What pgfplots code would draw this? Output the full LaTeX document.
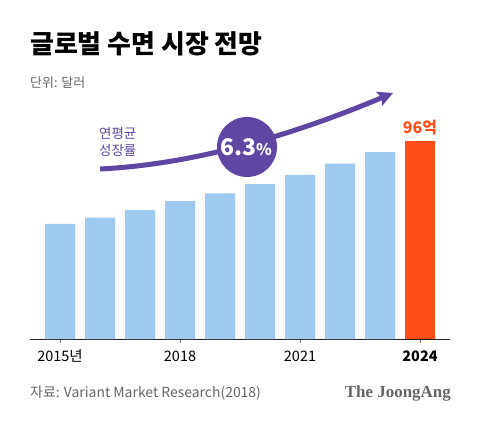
\documentclass[border=0pt]{standalone}
\usepackage{pgfplots}
\pgfplotsset{compat=1.18}
\usepackage{fontspec}
\setmainfont{Noto Sans CJK KR}
\newfontfamily\jaserif{Liberation Serif}
\usetikzlibrary{arrows.meta}
\definecolor{barblue}{HTML}{9DCAEE}
\definecolor{barred}{HTML}{FF4D17}
\definecolor{arrowpurple}{HTML}{5F46A3}
\definecolor{txtgray}{HTML}{666666}
\begin{document}
\begin{tikzpicture}[x=1bp,y=1bp]
\fill[white] (0,0) rectangle (480,422);
\path[use as bounding box] (0,0) rectangle (480,422);
% titles
\node[anchor=west, inner sep=0] at (30,378.5) {\fontsize{26}{26}\selectfont\bfseries 글로벌 수면 시장 전망};
\node[anchor=west, inner sep=0, text=txtgray] at (30,339.5) {\fontsize{13}{13}\selectfont 단위: 달러};
\begin{axis}[
  at={(30bp,83bp)}, anchor=south west,
  scale only axis, width=420bp, height=220bp,
  xmin=2014.25, xmax=2024.75, ymin=0, ymax=106.5,
  axis y line=none, axis x line=bottom,
  x axis line style={-, black!85, line width=0.9bp},
  xtick={2015,2018,2021,2024},
  xticklabels={2015년,2018,2021,\textbf{2024}},
  tick style={black!55, line width=0.7bp},
  major tick length=4bp, tick align=outside,
  xticklabel style={font=\fontsize{14.5}{14.5}\selectfont, text=black, inner sep=0pt, anchor=center, yshift=-13bp},
  clip=false,
]
\addplot[ybar, bar width=30bp, bar shift=0pt, fill=barblue, draw=none] coordinates {
 (2015,55.7) (2016,58.7) (2017,62.4) (2018,66.8) (2019,70.5)
 (2020,75.0) (2021,79.5) (2022,84.9) (2023,90.5)};
\addplot[ybar, bar width=30bp, bar shift=0pt, fill=barred, draw=none] coordinates {(2024,96)};
\node[anchor=south, inner sep=0, text=barred, yshift=5bp] at (axis cs:2024,96) {\fontsize{16}{16}\selectfont\bfseries 96억};
\end{axis}
% growth arrow annotation
\draw[arrowpurple, line width=5bp, -{Stealth[length=15bp,width=15bp,inset=3bp]}] (100,253) .. controls (200,258) and (300,290) .. (393,329);
\fill[arrowpurple] (247,275) circle (30);
\node[text=white, inner sep=0] at (246,275) {\fontsize{23}{23}\selectfont\bfseries 6.3{\fontsize{16}{16}\selectfont\%}};
\node[anchor=north west, inner sep=0, text=arrowpurple, align=left, font=\fontsize{13.5}{17}\selectfont] at (99,295) {연평균\\성장률};
% footer
\node[anchor=west, inner sep=0, text=txtgray] at (30,29) {\fontsize{14}{14}\selectfont 자료: Variant Market Research(2018)};
\node[anchor=east, inner sep=0, text=black!60] at (451,29) {\fontsize{17}{17}\selectfont\jaserif\bfseries The JoongAng};
\end{tikzpicture}
\end{document}
